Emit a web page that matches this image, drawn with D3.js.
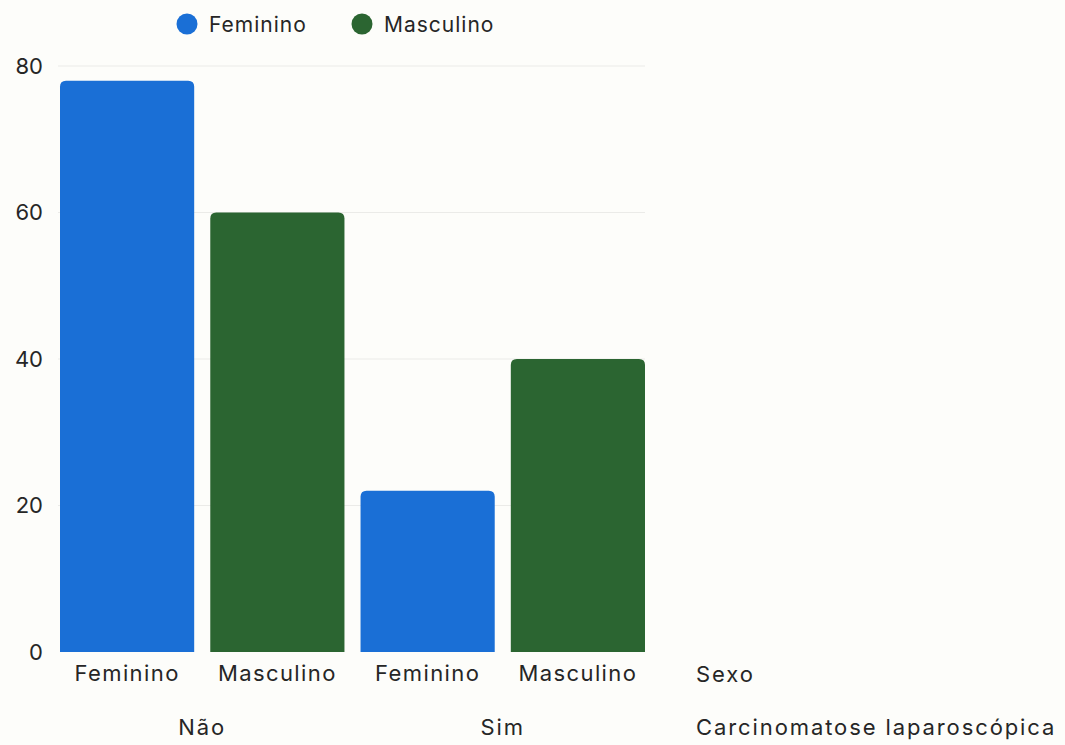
<!DOCTYPE html>
<html>
<head>
<meta charset="utf-8">
<script src="https://cdn.jsdelivr.net/npm/d3@7"></script>
<style>
  html, body { margin: 0; padding: 0; background: #fdfdfa; }
  svg { display: block; }
  text { font-family: "Inter", "Open Sans", sans-serif; fill: #262626; }
</style>
</head>
<body>
<svg id="chart" width="1065" height="745"></svg>
<script>
// Groups (Carcinomatose laparoscópica) and sex breakdown
const groups = ["Não", "Sim"];
const sexes = ["Feminino", "Masculino"];
const values = [
  { group: "Não", sex: "Feminino", value: 78 },
  { group: "Não", sex: "Masculino", value: 60 },
  { group: "Sim", sex: "Feminino", value: 22 },
  { group: "Sim", sex: "Masculino", value: 40 }
];
const yTicks = [0, 20, 40, 60, 80];
const colors = { Feminino: "#1a6fd6", Masculino: "#2b6531" };

const FONT = "Inter, 'Open Sans', sans-serif";
const svg = d3.select("#chart");
const margin = { left: 60, right: 645, top: 66, bottom: 652 };

const x = d3.scaleBand()
  .domain(values.map(d => d.group + "|" + d.sex))
  .range([margin.left, margin.right])
  .paddingInner(0.107)
  .paddingOuter(0);

const y = d3.scaleLinear().domain([0, 80]).range([margin.bottom, margin.top]);

// gridlines
svg.append("g")
  .selectAll("line")
  .data(yTicks.filter(t => t > 0))
  .join("line")
  .attr("x1", 58).attr("x2", margin.right)
  .attr("y1", d => y(d)).attr("y2", d => y(d))
  .attr("stroke", "#ebebe8").attr("stroke-width", 1);

// y axis labels
const yAxis = d3.axisLeft(y).tickValues(yTicks).tickSize(0).tickPadding(0);
const yg = svg.append("g").attr("transform", "translate(43,0)").call(yAxis);
yg.select(".domain").remove();
yg.selectAll("text")
  .attr("font-size", 22)
  .attr("font-family", FONT)
  .attr("fill", "#262626");

// bars with rounded top corners
const r = 6;
function barPath(d) {
  const x0 = x(d.group + "|" + d.sex), w = x.bandwidth();
  const y0 = y(d.value), y1 = y(0);
  return `M${x0},${y1} L${x0},${y0 + r} Q${x0},${y0} ${x0 + r},${y0}
          L${x0 + w - r},${y0} Q${x0 + w},${y0} ${x0 + w},${y0 + r} L${x0 + w},${y1} Z`;
}
svg.append("g")
  .selectAll("path")
  .data(values)
  .join("path")
  .attr("d", barPath)
  .attr("fill", d => colors[d.sex]);

// x labels: sex
const xAxis = d3.axisBottom(x).tickSize(0).tickPadding(0).tickFormat(k => k.split("|")[1]);
const xg = svg.append("g").attr("transform", `translate(0,${margin.bottom + 29})`).call(xAxis);
xg.select(".domain").remove();
xg.selectAll("text")
  .attr("dy", 0)
  .attr("font-size", 22)
  .attr("letter-spacing", 1.4)
  .attr("font-family", FONT)
  .attr("fill", "#262626");

// group labels
svg.append("g")
  .selectAll("text")
  .data(groups)
  .join("text")
  .attr("x", g => {
    const keys = sexes.map(s => g + "|" + s);
    return (x(keys[0]) + x(keys[1]) + x.bandwidth()) / 2;
  })
  .attr("y", 735)
  .attr("text-anchor", "middle")
  .attr("font-size", 22)
  .attr("letter-spacing", 1.9)
  .text(g => g);

// axis titles
svg.append("text").attr("x", 696).attr("y", 682)
  .attr("font-size", 22).attr("letter-spacing", 1.9).text("Sexo");
svg.append("text").attr("x", 696).attr("y", 735)
  .attr("font-size", 22).attr("letter-spacing", 1.9).text("Carcinomatose laparoscópica");

// legend
const legend = svg.append("g");
const lx = [187, 362];
sexes.forEach((s, i) => {
  legend.append("circle").attr("cx", lx[i]).attr("cy", 24).attr("r", 10.5).attr("fill", colors[s]);
  legend.append("text").attr("x", lx[i] + 22).attr("y", 32)
    .attr("font-size", 21).attr("letter-spacing", 1).text(s);
});
</script>
</body>
</html>
